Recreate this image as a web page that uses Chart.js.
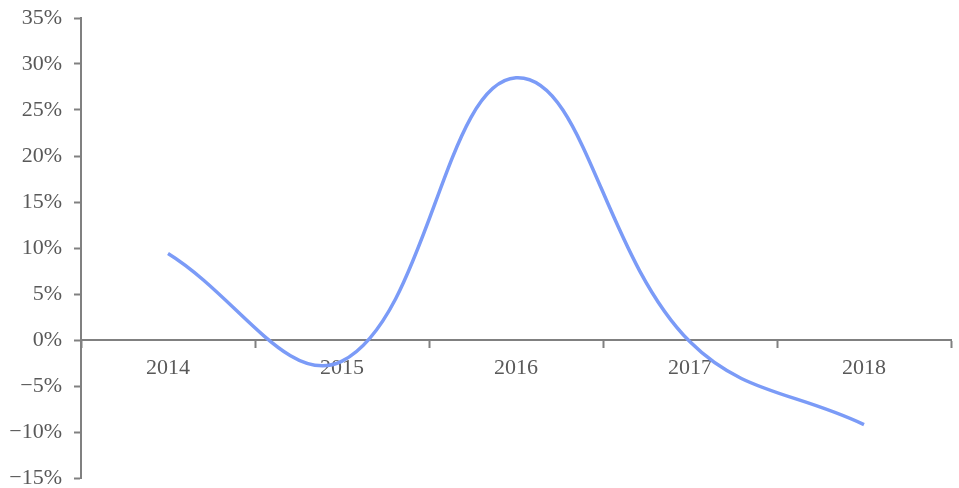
<!DOCTYPE html>
<html>
<head>
<meta charset="utf-8">
<script src="https://cdn.jsdelivr.net/npm/chart.js@4.4.1/dist/chart.umd.min.js"></script>
<style>
  html, body { margin: 0; padding: 0; background: #fff; }
  #wrap { width: 959px; height: 488px; }
</style>
</head>
<body>
<div id="wrap"><canvas id="lineChart"></canvas></div>
<script>
const years = ['2014', '2015', '2016', '2017', '2018'];
const growth = [9.4, -2.3, 28.5, -0.2, -9.2];
const yTicks = [-15, -10, -5, 0, 5, 10, 15, 20, 25, 30, 35];

const axisGray = '#808080';
const textGray = '#595959';
const labelFont = { family: 'Liberation Serif', size: 22 };

const lineChart = new Chart(
  document.getElementById('lineChart'),
  {
    type: 'line',
    data: {
      labels: years,
      datasets: [
        {
          data: growth,
          borderColor: '#7b9bf7',
          borderWidth: 3.5,
          fill: false,
          tension: 0.4,
          pointRadius: 0
        }
      ]
    },
    options: {
      responsive: true,
      maintainAspectRatio: false,
      animation: false,
      layout: { padding: { top: 18, right: 8, bottom: 10, left: 0 } },
      plugins: {
        legend: { display: false },
        tooltip: { enabled: false }
      },
      scales: {
        x: {
          position: { y: 0 },
          offset: true,
          grid: {
            offset: true,
            drawOnChartArea: false,
            drawTicks: true,
            tickLength: 7,
            tickWidth: 2,
            color: axisGray
          },
          border: { display: true, color: axisGray, width: 2 },
          ticks: { color: textGray, font: labelFont, padding: 8 }
        },
        y: {
          min: -15,
          max: 35,
          afterBuildTicks: (scale) => { scale.ticks = yTicks.map(v => ({ value: v })); },
          afterFit: (scale) => {
            scale.width = 81;
            scale.paddingTop = 0;
            scale.paddingBottom = 0;
          },
          grid: {
            drawOnChartArea: false,
            drawTicks: true,
            tickLength: 7,
            tickWidth: 2,
            color: axisGray
          },
          border: { display: true, color: axisGray, width: 2 },
          ticks: {
            color: textGray,
            font: labelFont,
            padding: 12,
            callback: (v) => (v < 0 ? '\u2212' + Math.abs(v) : v) + '%'
          }
        }
      }
    }
  }
);
</script>
</body>
</html>
